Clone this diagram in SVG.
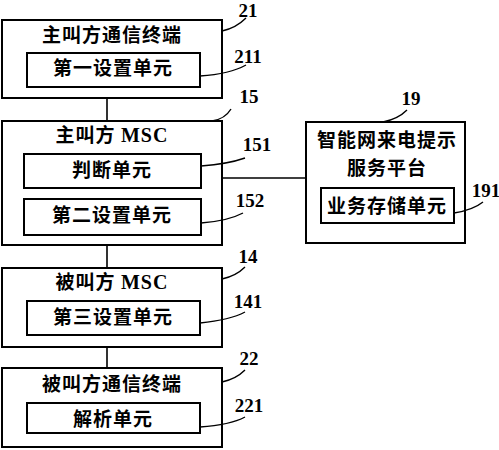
<svg xmlns="http://www.w3.org/2000/svg" width="499" height="450" viewBox="0 0 499 450">
<style>
rect{fill:#fff;stroke:#000;stroke-width:2}
.c{fill:none;stroke:#000;stroke-width:1.6}
.t{font-family:"Noto Sans CJK SC","Liberation Serif",sans-serif;font-size:19px;font-weight:bold;text-anchor:middle;letter-spacing:1px}
.n{font-family:"Liberation Serif",serif;font-size:19px;font-weight:bold;text-anchor:middle}
.m{font-family:"Liberation Serif",serif;font-size:20px}
.l{fill:none;stroke:#000;stroke-width:1.4}
</style>
<rect x="0" y="0" width="499" height="450" style="stroke:none"/>
<g id="connectors">
<path class="c" d="M107 98V121M107 188V199M107 245V268M107 347V368M201 178H307"/>
</g>
<g id="n21">
<rect x="2" y="20" width="220" height="78"/>
<text class="t" x="112" y="42">主叫方通信终端</text>
<text class="n" x="248" y="17">21</text>
<path class="l" d="M222 31Q236 28 246 18"/>
</g>
<g id="n211">
<rect x="27" y="53" width="173" height="34"/>
<text class="t" x="113" y="75">第一设置单元</text>
<text class="n" x="248" y="63">211</text>
<path class="l" d="M200 76Q230 74 246 65"/>
</g>
<g id="n15">
<rect x="2" y="121" width="220" height="124"/>
<text class="t" x="112" y="142">主叫方 <tspan class="m">MSC</tspan></text>
<text class="n" x="249" y="103">15</text>
<path class="l" d="M212 121Q225 119 231 109"/>
</g>
<g id="n151">
<rect x="24" y="154" width="177" height="34"/>
<text class="t" x="112" y="177">判断单元</text>
<text class="n" x="257" y="151">151</text>
<path class="l" d="M201 166Q228 164 245 158"/>
</g>
<g id="n152">
<rect x="24" y="199" width="177" height="36"/>
<text class="t" x="112" y="222">第二设置单元</text>
<text class="n" x="250" y="207">152</text>
<path class="l" d="M201 223Q228 221 243 213"/>
</g>
<g id="n19">
<rect x="306" y="122" width="159" height="121"/>
<text class="t" x="387" y="147">智能网来电提示</text>
<text class="t" x="387" y="175">服务平台</text>
<text class="n" x="411" y="105">19</text>
<path class="l" d="M383 122Q398 119 407 110"/>
</g>
<g id="n191">
<rect x="321" y="188" width="133" height="35"/>
<text class="t" x="387" y="213">业务存储单元</text>
<text class="n" x="486" y="197">191</text>
<path class="l" d="M454 213Q473 210 483 202"/>
</g>
<g id="n14">
<rect x="2" y="268" width="220" height="79"/>
<text class="t" x="112" y="289">被叫方 <tspan class="m">MSC</tspan></text>
<text class="n" x="248" y="263">14</text>
<path class="l" d="M222 279Q236 276 245 267"/>
</g>
<g id="n141">
<rect x="27" y="301" width="173" height="34"/>
<text class="t" x="113" y="324">第三设置单元</text>
<text class="n" x="248" y="308">141</text>
<path class="l" d="M200 323Q230 320 245 312"/>
</g>
<g id="n22">
<rect x="2" y="368" width="220" height="79"/>
<text class="t" x="112" y="391">被叫方通信终端</text>
<text class="n" x="249" y="365">22</text>
<path class="l" d="M222 382Q236 379 245 370"/>
</g>
<g id="n221">
<rect x="27" y="403" width="173" height="30"/>
<text class="t" x="113" y="426">解析单元</text>
<text class="n" x="249" y="412">221</text>
<path class="l" d="M200 427Q230 425 245 417"/>
</g>
</svg>
